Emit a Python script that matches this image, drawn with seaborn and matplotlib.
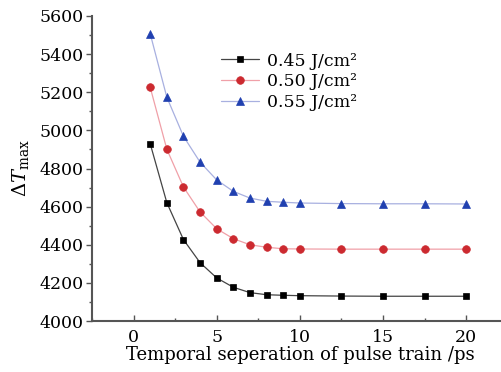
import matplotlib
matplotlib.use("Agg")
import matplotlib.pyplot as plt
import seaborn as sns
import pandas as pd
from matplotlib.ticker import MultipleLocator

sns.set_theme(style="white")
plt.rcParams['font.family'] = ['DejaVu Serif']
plt.rcParams['mathtext.fontset'] = 'dejavuserif'
plt.rcParams['text.color'] = 'black'
plt.rcParams['axes.labelcolor'] = 'black'
plt.rcParams['xtick.color'] = 'black'
plt.rcParams['ytick.color'] = 'black'

x_vals = [1, 2, 3, 4, 5, 6, 7, 8, 9, 10, 12.5, 15, 17.5, 20]
y_045 = [4930, 4621, 4427, 4306, 4226, 4177, 4149, 4138, 4135, 4133, 4131, 4130, 4130, 4130]
y_050 = [5226, 4901, 4703, 4572, 4484, 4432, 4400, 4387, 4379, 4378, 4377, 4377, 4377, 4377]
y_055 = [5507, 5174, 4969, 4833, 4740, 4680, 4645, 4628, 4623, 4619, 4616, 4615, 4615, 4614]
labels = ["0.45 J/cm\u00b2", "0.50 J/cm\u00b2", "0.55 J/cm\u00b2"]

fig = plt.figure(figsize=(5.01, 3.72), dpi=100)
ax = fig.add_axes([0.1836, 0.137, 0.83, 0.820])

styles = [
    dict(marker='s', line='#444444', face='#000000', ms=5.0),
    dict(marker='o', line='#f0a0a8', face='#cc2a30', ms=5.5),
    dict(marker='^', line='#a8b0e0', face='#2040b0', ms=5.5),
]
for ys, lab, st in zip([y_045, y_050, y_055], labels, styles):
    df = pd.DataFrame({"x": x_vals, "y": ys})
    sns.lineplot(data=df, x="x", y="y", ax=ax, color=st['line'], lw=0.9,
                 marker=st['marker'], markersize=st['ms'], markerfacecolor=st['face'],
                 markeredgecolor=st['face'], markeredgewidth=0.5, label=lab)

ax.set_xlim(-2.5, 22.5)
ax.set_ylim(4000, 5600)
ax.xaxis.set_major_locator(MultipleLocator(5))
ax.xaxis.set_minor_locator(MultipleLocator(2.5))
ax.yaxis.set_major_locator(MultipleLocator(200))
ax.yaxis.set_minor_locator(MultipleLocator(100))
ax.tick_params(axis='x', which='major', direction='in', length=4, width=1, color='#555555', labelsize=12.5, pad=6)
ax.tick_params(axis='x', which='minor', direction='in', length=2.5, width=1, color='#555555')
ax.tick_params(axis='y', which='major', direction='out', length=4, width=1, color='#555555', labelsize=12.5, pad=2)
ax.tick_params(axis='y', which='minor', direction='out', length=2.5, width=1, color='#555555')
ax.tick_params(bottom=True, left=True, which='both')
for s in ['top', 'right']:
    ax.spines[s].set_visible(False)
for s in ['left', 'bottom']:
    ax.spines[s].set_color('#555555')
    ax.spines[s].set_linewidth(1.5)

ax.set_xlabel("Temporal seperation of pulse train /ps", fontsize=13, labelpad=0)
ax.set_ylabel(r"$\Delta T_{\rm max}$", fontsize=14, labelpad=6)

ax.legend(loc='upper left', bbox_to_anchor=(0.28, 0.92), frameon=False, fontsize=12.5,
          handlelength=2.2, handletextpad=0.5, labelspacing=0.22, borderpad=0.2)

fig.savefig("out.png", dpi=100)
